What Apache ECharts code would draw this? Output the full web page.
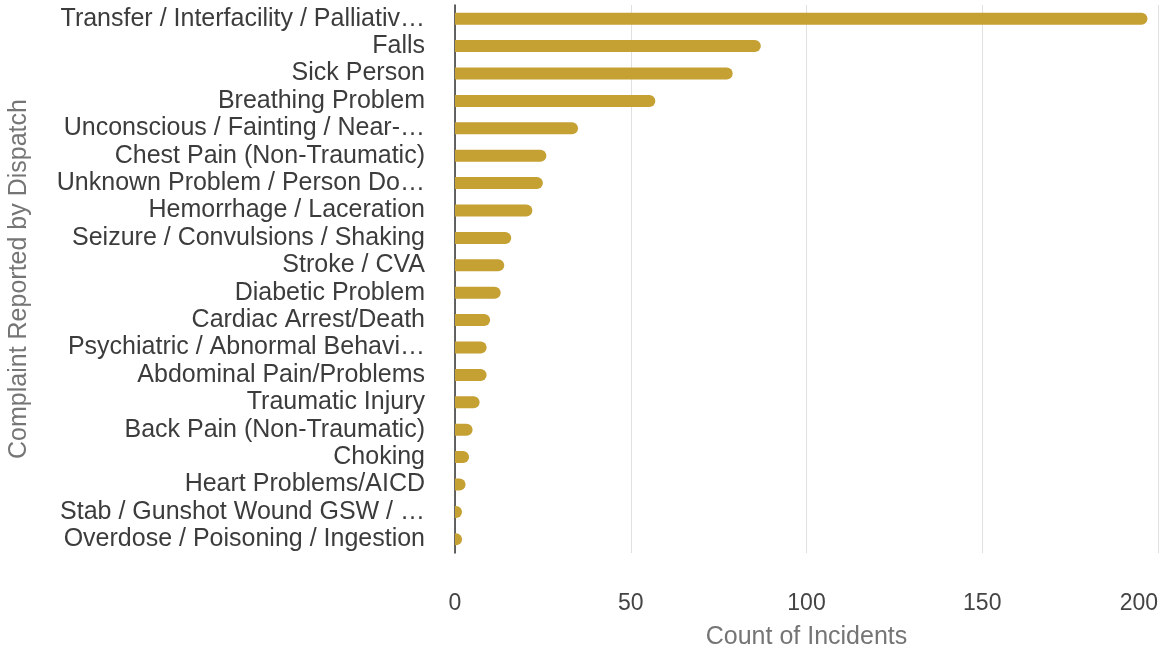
<!DOCTYPE html>
<html>
<head>
<meta charset="utf-8">
<style>
  html, body { margin: 0; padding: 0; background: #ffffff; }
  #chart { width: 1164px; height: 655px; }
</style>
<script src="https://cdn.jsdelivr.net/npm/echarts@6/dist/echarts.min.js"></script>
</head>
<body>
<div id="chart"></div>
<script>
// Dispatch complaint types, listed from most to least frequent
const complaints = [
  'Transfer / Interfacility / Palliativ…',
  'Falls',
  'Sick Person',
  'Breathing Problem',
  'Unconscious / Fainting / Near-…',
  'Chest Pain (Non-Traumatic)',
  'Unknown Problem / Person Do…',
  'Hemorrhage / Laceration',
  'Seizure / Convulsions / Shaking',
  'Stroke / CVA',
  'Diabetic Problem',
  'Cardiac Arrest/Death',
  'Psychiatric / Abnormal Behavi…',
  'Abdominal Pain/Problems',
  'Traumatic Injury',
  'Back Pain (Non-Traumatic)',
  'Choking',
  'Heart Problems/AICD',
  'Stab / Gunshot Wound GSW / …',
  'Overdose / Poisoning / Ingestion'
];

// Number of incidents for each complaint
const incidentCounts = [197, 87, 79, 57, 35, 26, 25, 22, 16, 14, 13, 10, 9, 9, 7, 5, 4, 3, 2, 2];

const xTicks = { min: 0, max: 200, interval: 50 };

const FONT = '"Liberation Sans", Arial, sans-serif';

const chart = echarts.init(document.getElementById('chart'), null, { renderer: 'canvas' });

chart.setOption({
  animation: false,
  backgroundColor: '#ffffff',
  grid: {
    left: 455, right: 6, top: 5, bottom: 102,
    containLabel: false,
    outerBoundsMode: 'none'
  },
  xAxis: {
    type: 'value',
    min: xTicks.min,
    max: xTicks.max,
    interval: xTicks.interval,
    name: 'Count of Incidents',
    nameLocation: 'middle',
    nameGap: 72,
    nameTextStyle: { color: '#757575', fontSize: 25, fontFamily: FONT },
    axisLine: { show: false },
    axisTick: { show: false },
    axisLabel: {
      color: '#444444', fontSize: 23, fontFamily: FONT, margin: 39,
      alignMaxLabel: 'right'
    },
    splitLine: { show: true, lineStyle: { color: '#e0e0e0', width: 1 } }
  },
  yAxis: {
    type: 'category',
    inverse: true,
    data: complaints,
    name: 'Complaint Reported by Dispatch',
    nameLocation: 'middle',
    nameGap: 423,
    nameRotate: 90,
    nameTextStyle: { color: '#757575', fontSize: 25, fontFamily: FONT },
    axisLine: { show: true, lineStyle: { color: '#333333', width: 1.5 } },
    axisTick: { show: false },
    axisLabel: { color: '#3c3c3c', fontSize: 25, fontFamily: FONT, margin: 30, interval: 0 },
    splitLine: { show: false }
  },
  series: [{
    type: 'bar',
    data: incidentCounts,
    barWidth: 12,
    itemStyle: { color: '#c5a033', borderRadius: [0, 6, 6, 0] }
  }]
});
</script>
</body>
</html>
